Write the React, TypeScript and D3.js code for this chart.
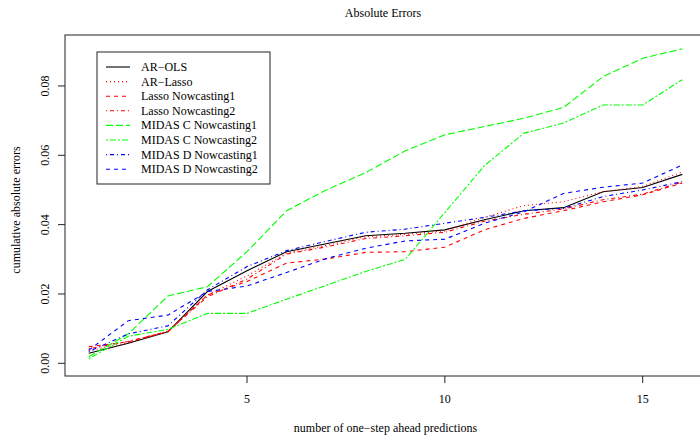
import React from 'react';
import * as d3 from 'd3';

const width = 700;
const height = 439;
const box = { left: 65, top: 35, right: 706, bottom: 376 };
const font = '"Liberation Serif", "Times New Roman", serif';

// number of one-step ahead predictions
const steps = [1, 2, 3, 4, 5, 6, 7, 8, 9, 10, 11, 12, 13, 14, 15, 16];
const xTicks = [5, 10, 15];
const yTicks = [0, 0.02, 0.04, 0.06, 0.08];

const arOls = [0.0029, 0.0058, 0.0091, 0.0207, 0.0267, 0.0322, 0.0345, 0.0368, 0.0375, 0.0385, 0.0414, 0.0440, 0.0449, 0.0495, 0.0507, 0.0545];
const arLasso = [0.0036, 0.0060, 0.0093, 0.0197, 0.0252, 0.0318, 0.0340, 0.0365, 0.0372, 0.0382, 0.0421, 0.0455, 0.0466, 0.0495, 0.0510, 0.0552];
const lassoNc1 = [0.0048, 0.0062, 0.0091, 0.0197, 0.0236, 0.0289, 0.0301, 0.0320, 0.0322, 0.0335, 0.0385, 0.0418, 0.0440, 0.0466, 0.0486, 0.0520];
const lassoNc2 = [0.0042, 0.0063, 0.0092, 0.0192, 0.0243, 0.0315, 0.0336, 0.0360, 0.0368, 0.0378, 0.0410, 0.0430, 0.0445, 0.0472, 0.0488, 0.0523];
const midasCNc1 = [0.0019, 0.0085, 0.0194, 0.0221, 0.0322, 0.0440, 0.0500, 0.0550, 0.0613, 0.0659, 0.0683, 0.0707, 0.0738, 0.0827, 0.0880, 0.0907];
const midasCNc2 = [0.0013, 0.0078, 0.0098, 0.0144, 0.0144, 0.0185, 0.0225, 0.0265, 0.0300, 0.0435, 0.0570, 0.0664, 0.0693, 0.0745, 0.0745, 0.0818];
const midasDNc1 = [0.0034, 0.0085, 0.0108, 0.0212, 0.0279, 0.0325, 0.0352, 0.0378, 0.0387, 0.0404, 0.0421, 0.0440, 0.0447, 0.0481, 0.0500, 0.0524];
const midasDNc2 = [0.0038, 0.0123, 0.0139, 0.0207, 0.0223, 0.0262, 0.0302, 0.0332, 0.0353, 0.0358, 0.0404, 0.0437, 0.0490, 0.0508, 0.0520, 0.0572];

const seriesNames = [
  'AR\u2212OLS', 'AR\u2212Lasso', 'Lasso Nowcasting1', 'Lasso Nowcasting2',
  'MIDAS C Nowcasting1', 'MIDAS C Nowcasting2', 'MIDAS D Nowcasting1', 'MIDAS D Nowcasting2',
];
const seriesValues = [arOls, arLasso, lassoNc1, lassoNc2, midasCNc1, midasCNc2, midasDNc1, midasDNc2];
const seriesColors = ['#000000', '#ff0000', '#ff0000', '#ff0000', '#00ff00', '#00ff00', '#0000ff', '#0000ff'];
// R lty 1..6
const seriesDashes = ['none', '1,3', '4,4', '1,3,4,3', '7,3', '2,2,6,2', '1,3,4,3', '4,4'];

const xScale = d3.scaleLinear().domain([0.4, 16.6]).range([box.left, box.right]);
const yScale = d3.scaleLinear().domain([-0.00366, 0.0947]).range([box.bottom, box.top]);

export default function App() {
  const line = d3.line<number>()
    .x((d, i) => xScale(steps[i]))
    .y(d => yScale(d));

  const legendX = 97;
  const legendY = 52;
  const rowGap = 14.6;

  return (
    <svg width={width} height={height} style={{ position: 'absolute', left: 0, top: 0, background: '#fff' }}
      fontFamily={font}>
      <text x={383} y={17} fontSize={12} textAnchor="middle">Absolute Errors</text>

      <g>
        {seriesValues.map((vals, k) => (
          <path key={k} d={line(vals) || ''} fill="none" stroke={seriesColors[k]}
            strokeWidth={1.1} strokeDasharray={seriesDashes[k]} />
        ))}
      </g>

      <rect x={box.left} y={box.top} width={box.right - box.left} height={box.bottom - box.top}
        fill="none" stroke="#222" strokeWidth={1} />

      <g>
        {xTicks.map(t => (
          <g key={t}>
            <line x1={xScale(t)} x2={xScale(t)} y1={box.bottom} y2={box.bottom + 7} stroke="#222" />
            <text x={xScale(t)} y={403} fontSize={12} textAnchor="middle">{t}</text>
          </g>
        ))}
        {yTicks.map(t => (
          <g key={t}>
            <line x1={box.left - 7} x2={box.left} y1={yScale(t)} y2={yScale(t)} stroke="#222" />
            <text transform={`translate(49,${yScale(t)}) rotate(-90)`} fontSize={12} textAnchor="middle">
              {d3.format('.2f')(t)}
            </text>
          </g>
        ))}
      </g>

      <text x={385.5} y={432} fontSize={12} textAnchor="middle">number of one{'\u2212'}step ahead predictions</text>
      <text transform="translate(20,210) rotate(-90)" fontSize={12} textAnchor="middle">
        cumulative absolute errors
      </text>

      <g>
        <rect x={legendX} y={legendY} width={173} height={132} fill="#fff" stroke="#222" strokeWidth={1} />
        {seriesNames.map((name, k) => {
          const cy = 67 + k * rowGap;
          return (
            <g key={name}>
              <line x1={106} x2={130} y1={cy} y2={cy} stroke={seriesColors[k]} strokeWidth={1.1}
                strokeDasharray={seriesDashes[k]} />
              <text x={141} y={cy + 4} fontSize={12}>{name}</text>
            </g>
          );
        })}
      </g>
    </svg>
  );
}
